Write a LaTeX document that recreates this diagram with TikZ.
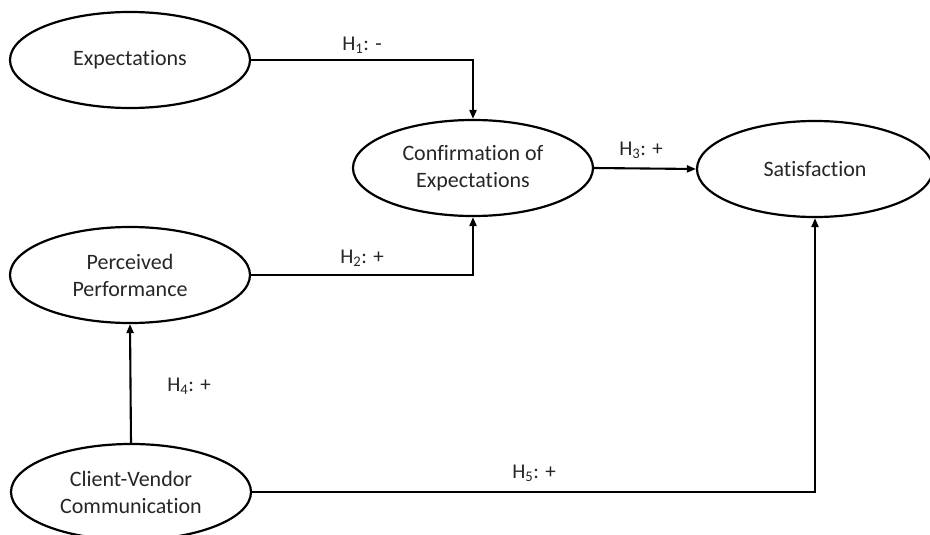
\documentclass[tikz,border=0pt]{standalone}
\usepackage{fontspec}
\setmainfont{Carlito}[Ligatures=NoCommon]
\usetikzlibrary{arrows.meta,shapes.geometric}
\begin{document}
\begin{tikzpicture}[x=1pt,y=-1pt,
  construct/.style={draw=black, line width=2.2pt, ellipse, minimum width=240pt, minimum height=96pt, inner sep=0pt, align=center, text=black!85, font=\fontsize{22}{27}\selectfont},
  link/.style={draw=black, line width=2.1pt, -{Triangle[length=9pt,width=7pt]}},
  hlabel/.style={text=black!85, font=\fontsize{21}{24}\selectfont, inner sep=0pt}]
\useasboundingbox (0,0) rectangle (930,535);
\node[construct] (exp) at (130,60) {Expectations};
\node[construct] (conf) at (473,168) {Confirmation of\\Expectations};
\node[construct, minimum width=236pt] (sat) at (815,169) {Satisfaction};
\node[construct] (perc) at (130,275) {Perceived\\Performance};
\node[construct] (cv) at (131,492) {Client-Vendor\\Communication};
\draw[link] (exp.east) -| (conf.north);
\draw[link] (perc.east) -| (conf.south);
\draw[link] (conf.east) -- (sat.west);
\draw[link] (cv.north) -- (perc.south);
\draw[link] (cv.east) -| (sat.south);
\node[hlabel] (h1) at (362,45) {H\textsubscript{1}: -};
\node[hlabel] (h2) at (362,258) {H\textsubscript{2}: +};
\node[hlabel] (h3) at (641,150) {H\textsubscript{3}: +};
\node[hlabel] (h4) at (189,386) {H\textsubscript{4}: +};
\node[hlabel] (h5) at (534,473) {H\textsubscript{5}: +};
\end{tikzpicture}
\end{document}
